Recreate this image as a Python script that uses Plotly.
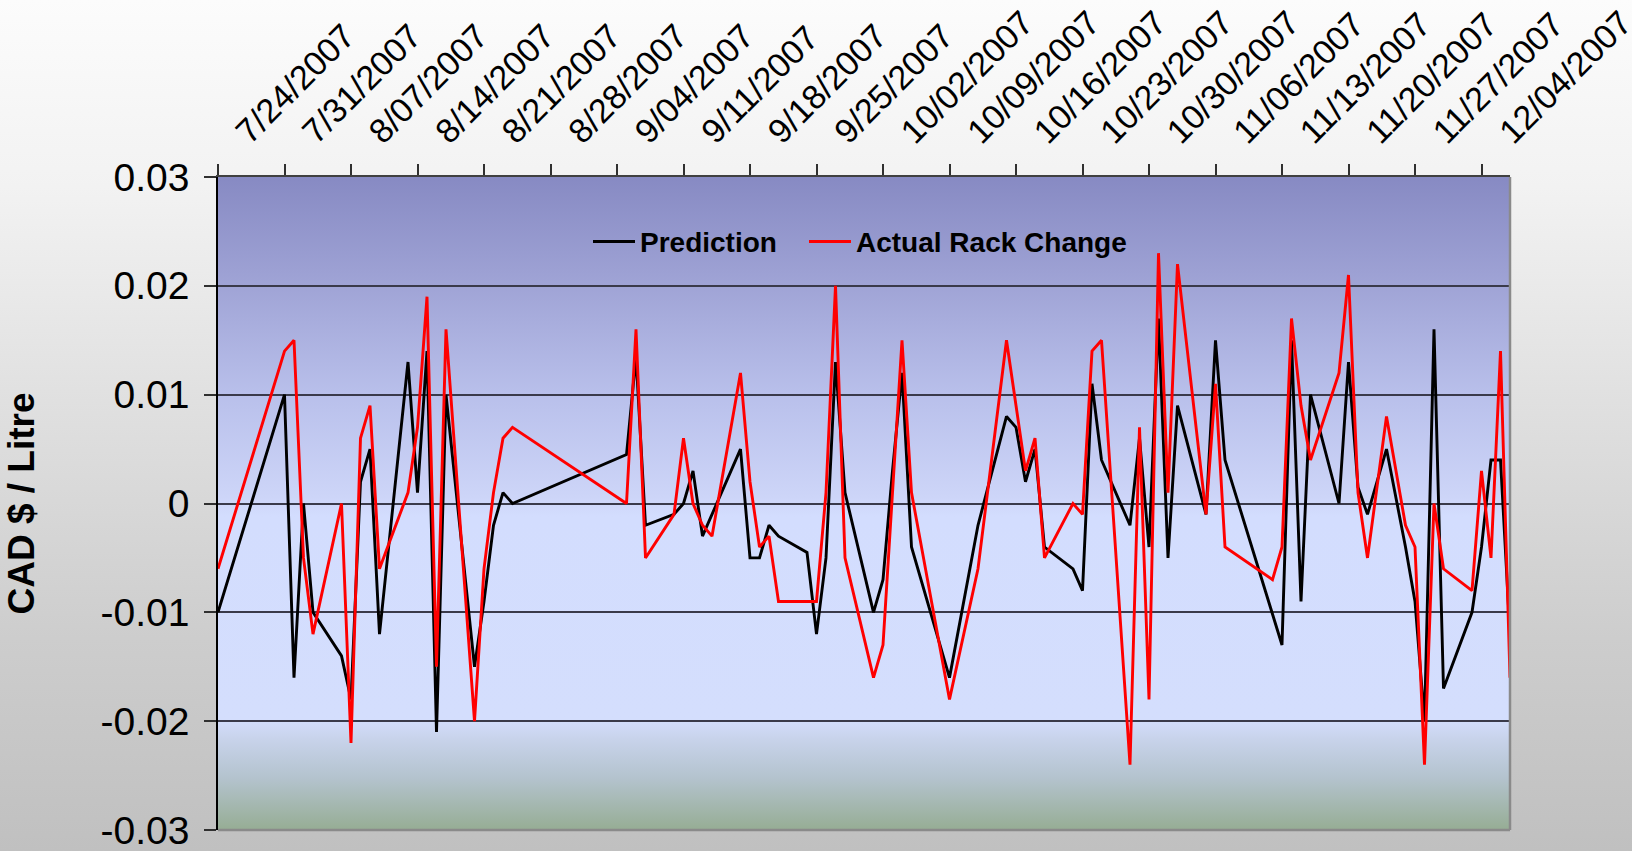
import base64
import plotly.graph_objects as go

# ---------------- data ----------------
dates = [
    "2007-07-24", "2007-07-31", "2007-08-01", "2007-08-02", "2007-08-03",
    "2007-08-06", "2007-08-07", "2007-08-08", "2007-08-09", "2007-08-10",
    "2007-08-13", "2007-08-14", "2007-08-15", "2007-08-16", "2007-08-17",
    "2007-08-20", "2007-08-21", "2007-08-22", "2007-08-23", "2007-08-24",
    "2007-09-05", "2007-09-06", "2007-09-07", "2007-09-10", "2007-09-11",
    "2007-09-12", "2007-09-13", "2007-09-14", "2007-09-17", "2007-09-18",
    "2007-09-19", "2007-09-20", "2007-09-21", "2007-09-24", "2007-09-25",
    "2007-09-26", "2007-09-27", "2007-09-28", "2007-10-01", "2007-10-02",
    "2007-10-03", "2007-10-04", "2007-10-05", "2007-10-09", "2007-10-12",
    "2007-10-15", "2007-10-16", "2007-10-17", "2007-10-18", "2007-10-19",
    "2007-10-22", "2007-10-23", "2007-10-24", "2007-10-25", "2007-10-28",
    "2007-10-29", "2007-10-30", "2007-10-31", "2007-11-01", "2007-11-02",
    "2007-11-05", "2007-11-06", "2007-11-07", "2007-11-12", "2007-11-13",
    "2007-11-14", "2007-11-15", "2007-11-16", "2007-11-19", "2007-11-20",
    "2007-11-21", "2007-11-22", "2007-11-24", "2007-11-26", "2007-11-27",
    "2007-11-28", "2007-11-29", "2007-11-30", "2007-12-03", "2007-12-04",
    "2007-12-05", "2007-12-06", "2007-12-07",
]

prediction = [
    -0.010, 0.010, -0.016, 0.000, -0.010,
    -0.014, -0.018, 0.002, 0.005, -0.012,
    0.013, 0.001, 0.014, -0.021, 0.010,
    -0.015, -0.009, -0.002, 0.001, 0.000,
    0.0045, 0.0135, -0.002, -0.001, 0.000,
    0.003, -0.003, -0.001, 0.005, -0.005,
    -0.005, -0.002, -0.003, -0.0045, -0.012,
    -0.005, 0.013, 0.001, -0.010, -0.007,
    0.003, 0.012, -0.004, -0.016, -0.002,
    0.008, 0.007, 0.002, 0.005, -0.004,
    -0.006, -0.008, 0.011, 0.004, -0.002,
    0.006, -0.004, 0.017, -0.005, 0.009,
    -0.001, 0.015, 0.004, None, -0.013,
    0.015, -0.009, 0.010, 0.000, 0.013,
    0.0015, -0.001, 0.005, -0.004, -0.009,
    -0.020, 0.016, -0.017, -0.010, -0.004,
    0.004, 0.004, -0.012,
]

actual_rack_change = [
    -0.006, 0.014, 0.015, -0.005, -0.012,
    0.000, -0.022, 0.006, 0.009, -0.006,
    0.001, 0.007, 0.019, -0.015, 0.016,
    -0.020, -0.006, 0.001, 0.006, 0.007,
    0.000, 0.016, -0.005, -0.001, 0.006,
    0.000, -0.002, -0.003, 0.012, 0.002,
    -0.004, -0.003, -0.009, -0.009, -0.009,
    0.001, 0.020, -0.005, -0.016, -0.013,
    0.001, 0.015, 0.001, -0.018, -0.006,
    0.015, 0.009, 0.003, 0.006, -0.005,
    0.000, -0.001, 0.014, 0.015, -0.024,
    0.007, -0.018, 0.023, 0.001, 0.022,
    -0.001, 0.011, -0.004, -0.007, -0.004,
    0.017, 0.009, 0.004, 0.012, 0.021,
    0.001, -0.005, 0.008, -0.002, -0.004,
    -0.024, 0.000, -0.006, -0.008, 0.003,
    -0.005, 0.014, -0.016,
]

series_names = ["Prediction", "Actual Rack Change"]
y_tick_values = [-0.03, -0.02, -0.01, 0.0, 0.01, 0.02, 0.03]
y_tick_labels = ["-0.03", "-0.02", "-0.01", "0", "0.01", "0.02", "0.03"]
x_first_tick = "2007-07-24"
x_range = ["2007-07-24", "2007-12-07"]
y_title = "CAD $ / Litre"

# ---------------- layout geometry ----------------
W, H = 1632, 851
L, R, T, B = 218, 122, 177, 21
PW, PH = W - L - R, H - T - B
FONT = "Arial, Liberation Sans, sans-serif"


def gradient_uri(stops):
    st = "".join(f'<stop offset="{o}" stop-color="{c}"/>' for o, c in stops)
    svg = ('<svg xmlns="http://www.w3.org/2000/svg" width="100" height="100" '
           'viewBox="0 0 100 100" preserveAspectRatio="none"><defs>'
           f'<linearGradient id="g" x1="0" y1="0" x2="0" y2="1">{st}</linearGradient>'
           '</defs><rect x="0" y="0" width="100" height="100" fill="url(#g)"/></svg>')
    return "data:image/svg+xml;base64," + base64.b64encode(svg.encode()).decode()


page_grad = gradient_uri([(0, "#FCFCFC"), (0.22, "#F2F2F2"), (0.5, "#DEDEDE"),
                          (0.75, "#CDCDCD"), (1, "#C0C0C0")])
plot_grad = gradient_uri([(0, "#878AC3"), (0.168, "#A0A4D6"), (0.335, "#B9C0EB"),
                          (0.49, "#CDD5F8"), (0.52, "#D3DDFE"), (0.83, "#D4DEFD"),
                          (0.86, "#C8D3EB"), (0.92, "#B4C3CE"), (1, "#96AD94")])

fig = go.Figure()
fig.add_trace(go.Scatter(x=dates, y=prediction, name=series_names[0], mode="lines",
                         line=dict(color="#000000", width=2.9), connectgaps=True,
                         legend="legend"))
fig.add_trace(go.Scatter(x=dates, y=actual_rack_change, name=series_names[1], mode="lines",
                         line=dict(color="#FF0000", width=2.9), connectgaps=True,
                         legend="legend2"))

legend_common = dict(orientation="h", yanchor="middle", y=0.9008, xanchor="left",
                     bgcolor="rgba(0,0,0,0)", borderwidth=0, itemwidth=42,
                     font=dict(family=FONT, size=28, color="#000000", weight="bold"))

fig.update_layout(
    template="none",
    width=W, height=H,
    margin=dict(l=L, r=R, t=T, b=B, pad=0),
    paper_bgcolor="#D0D0D0",
    plot_bgcolor="rgba(0,0,0,0)",
    font=dict(family=FONT, color="#000000"),
    showlegend=True,
    legend=dict(x=(588 - L) / PW, **legend_common),
    legend2=dict(x=(804 - L) / PW, **legend_common),
    images=[
        dict(source=page_grad, xref="paper", yref="paper", x=-L / PW, y=(PH + T) / PH,
             sizex=W / PW, sizey=H / PH, xanchor="left", yanchor="top",
             sizing="stretch", layer="below"),
        dict(source=plot_grad, xref="paper", yref="paper", x=0, y=1, sizex=1, sizey=1,
             xanchor="left", yanchor="top", sizing="stretch", layer="below"),
    ],
    xaxis=dict(
        type="date", side="top", range=x_range, tick0=x_first_tick, dtick=7 * 86400000,
        tickformat="%-m/%d/%Y", tickangle=-45, ticks="outside", ticklen=11, tickwidth=1.5,
        tickcolor="#303030", showline=True, linecolor="#404040", linewidth=2,
        showgrid=False, zeroline=False, automargin=False, ticklabelshift=20,
        ticklabeloverflow="allow",
        tickfont=dict(family=FONT, size=34, color="#000000"),
    ),
    yaxis=dict(
        range=[-0.03, 0.03], tickmode="array", tickvals=y_tick_values, ticktext=y_tick_labels,
        ticks="outside", ticklen=12, tickwidth=1.5, tickcolor="#303030",
        showline=True, linecolor="#000000", linewidth=1.5,
        showgrid=True, gridcolor="#3A3A4A", gridwidth=1.5, zeroline=False, automargin=False,
        ticklabelstandoff=7, ticklabeloverflow="allow",
        tickfont=dict(family=FONT, size=39, color="#000000"),
    ),
    annotations=[dict(text=y_title, xref="paper", yref="paper", x=(21 - L) / PW, y=0.5,
                      xanchor="center", yanchor="middle", textangle=-90, showarrow=False,
                      font=dict(family=FONT, size=37, color="#000000", weight="bold"))],
    shapes=[
        dict(type="line", xref="paper", yref="paper", x0=1, x1=1, y0=0, y1=1,
             line=dict(color="#8A8A8A", width=2.5), layer="above"),
        dict(type="line", xref="paper", yref="paper", x0=0, x1=1, y0=0, y1=0,
             line=dict(color="#8A8A8A", width=2.5), layer="above"),
    ],
)

fig.write_html("out.html", include_plotlyjs=True, config={"displayModeBar": False},
               post_script="document.body.style.margin='0';document.body.style.overflow='hidden';")
